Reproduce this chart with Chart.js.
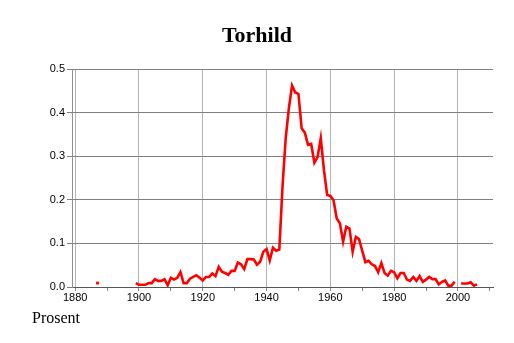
<!DOCTYPE html>
<html>
<head>
<meta charset="utf-8">
<script src="https://cdn.jsdelivr.net/npm/chart.js@4"></script>
<style>
  html, body { margin: 0; padding: 0; background: #fff; }
  #wrap { width: 514px; height: 343px; }
</style>
</head>
<body>
<div id="wrap"><canvas id="nameChart" width="514" height="343"></canvas></div>
<script>
var chartTitle = 'Torhild';
var unitLabel = 'Prosent';

// years and share (percent) per year, null = no data
var years = [
  1887, 1888, 1889, 1890, 1891, 1892, 1893, 1894, 1895, 1896, 1897, 1898, 1899,
  1900, 1901, 1902, 1903, 1904, 1905, 1906, 1907, 1908, 1909,
  1910, 1911, 1912, 1913, 1914, 1915, 1916, 1917, 1918, 1919,
  1920, 1921, 1922, 1923, 1924, 1925, 1926, 1927, 1928, 1929,
  1930, 1931, 1932, 1933, 1934, 1935, 1936, 1937, 1938, 1939,
  1940, 1941, 1942, 1943, 1944, 1945, 1946, 1947, 1948, 1949,
  1950, 1951, 1952, 1953, 1954, 1955, 1956, 1957, 1958, 1959,
  1960, 1961, 1962, 1963, 1964, 1965, 1966, 1967, 1968, 1969,
  1970, 1971, 1972, 1973, 1974, 1975, 1976, 1977, 1978, 1979,
  1980, 1981, 1982, 1983, 1984, 1985, 1986, 1987, 1988, 1989,
  1990, 1991, 1992, 1993, 1994, 1995, 1996, 1997, 1998, 1999,
  2000, 2001, 2002, 2003, 2004, 2005, 2006
];
var shares = [
  0.009, null, null, null, null, null, null, null, null, null, null, null, 0.009,
  0.005, 0.005, 0.005, 0.009, 0.009, 0.018, 0.014, 0.014, 0.018, 0.004,
  0.021, 0.017, 0.021, 0.034, 0.009, 0.009, 0.019, 0.023, 0.027, 0.021,
  0.015, 0.023, 0.023, 0.031, 0.025, 0.046, 0.035, 0.032, 0.028, 0.037,
  0.037, 0.056, 0.052, 0.041, 0.064, 0.064, 0.063, 0.051, 0.058, 0.081,
  0.087, 0.061, 0.090, 0.083, 0.086, 0.230, 0.341, 0.410, 0.462, 0.446,
  0.443, 0.364, 0.354, 0.326, 0.328, 0.285, 0.298, 0.341, 0.268, 0.211,
  0.209, 0.199, 0.157, 0.146, 0.104, 0.138, 0.134, 0.081, 0.115, 0.110,
  0.083, 0.057, 0.060, 0.052, 0.048, 0.034, 0.055, 0.032, 0.026, 0.037,
  0.034, 0.020, 0.032, 0.032, 0.017, 0.014, 0.023, 0.014, 0.025, 0.012,
  0.017, 0.023, 0.018, 0.018, 0.006, 0.012, 0.015, 0.003, 0.003, 0.012,
  null, 0.008, 0.008, 0.008, 0.011, 0.003, 0.006
];
var xTicks = [1880, 1890, 1900, 1910, 1920, 1930, 1940, 1950, 1960, 1970, 1980, 1990, 2000, 2010];
var yTicks = [0, 0.1, 0.2, 0.3, 0.4, 0.5];

var points = years.map(function (y, i) { return { x: y, y: shares[i] }; });

// title and unit label drawn on the canvas
var textPlugin = {
  id: 'textPlugin',
  afterDraw: function (chart) {
    var c = chart.ctx;
    c.save();
    c.fillStyle = '#000';
    c.textAlign = 'center';
    c.textBaseline = 'alphabetic';
    c.font = 'bold 22px "Liberation Serif"';
    c.fillText(chartTitle, 257, 42);
    c.textAlign = 'left';
    c.font = '16px "Liberation Serif"';
    c.fillText(unitLabel, 32, 323);
    c.restore();
  }
};

function isolated(ctx) {
  var i = ctx.dataIndex;
  var prev = i > 0 ? shares[i - 1] : null;
  var next = i < shares.length - 1 ? shares[i + 1] : null;
  return shares[i] !== null && prev === null && next === null;
}

new Chart(document.getElementById('nameChart'), {
  type: 'line',
  data: {
    datasets: [{
      data: points,
      borderColor: '#ff0000',
      backgroundColor: '#ff0000',
      borderWidth: 2.6,
      tension: 0,
      spanGaps: false,
      pointStyle: 'rect',
      pointRadius: function (ctx) { return isolated(ctx) ? 2 : 0; },
      pointBorderWidth: 0
    }]
  },
  options: {
    responsive: false,
    animation: false,
    devicePixelRatio: 1,
    layout: { padding: { left: 0, right: 21, top: 69, bottom: 0 } },
    plugins: {
      legend: { display: false },
      tooltip: { enabled: false },
      title: { display: false }
    },
    scales: {
      x: {
        type: 'linear',
        min: 1879,
        max: 2011,
        afterFit: function (scale) { scale.height = 56; },
        afterBuildTicks: function (scale) {
          scale.ticks = xTicks.map(function (v) { return { value: v }; });
        },
        ticks: {
          autoSkip: false,
          maxRotation: 0,
          padding: 0,
          color: '#000',
          font: { family: 'Liberation Sans', size: 11 },
          callback: function (v) { return v % 20 === 0 ? String(v) : ''; }
        },
        grid: {
          color: function (ctx) {
            return ctx.tick && ctx.tick.value % 20 === 0 ? '#b4b4b4' : 'rgba(0,0,0,0)';
          },
          tickColor: '#888',
          tickLength: 4,
          lineWidth: 1
        },
        border: { display: true, color: '#555', width: 1 }
      },
      y: {
        min: 0,
        max: 0.5,
        afterFit: function (scale) { scale.width = 72; },
        afterBuildTicks: function (scale) {
          scale.ticks = yTicks.map(function (v) { return { value: v }; });
        },
        ticks: {
          padding: 2,
          color: '#000',
          font: { family: 'Liberation Sans', size: 11 },
          callback: function (v) { return v.toFixed(1); }
        },
        grid: {
          color: '#808080',
          tickColor: '#808080',
          tickLength: 5,
          lineWidth: 1
        },
        border: { display: true, color: '#909090', width: 1 }
      }
    }
  },
  plugins: [textPlugin]
});
</script>
</body>
</html>
